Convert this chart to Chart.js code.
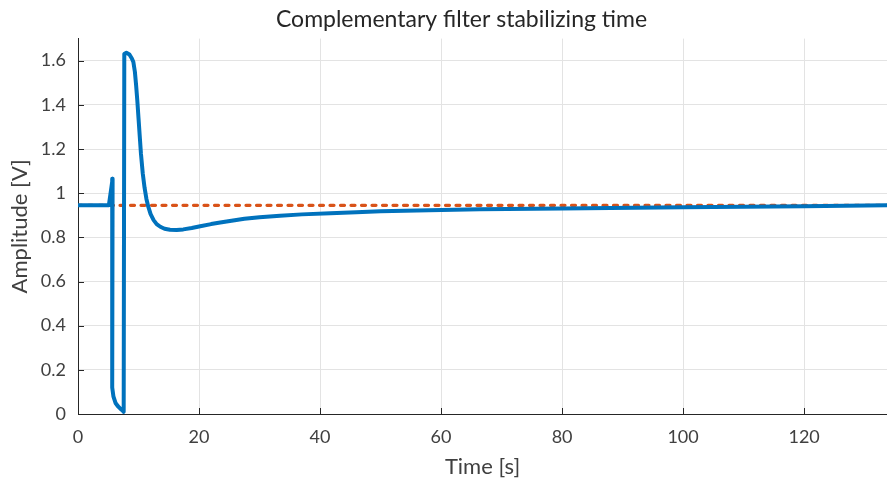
<!DOCTYPE html>
<html>
<head>
<meta charset="utf-8">
<script src="https://cdn.jsdelivr.net/npm/chart.js@4"></script>
<style>
  html, body { margin: 0; padding: 0; background: #fff; }
  canvas { display: block; }
</style>
</head>
<body>
<canvas id="chart" width="887" height="482"></canvas>
<script>
// filter output
const timeS = [0, 5.1, 5.72, 5.62, 5.62, 5.72, 5.85, 6.2, 6.6, 7.0, 7.35, 7.55, 7.65, 8.0, 8.5, 8.9, 9.15, 9.4, 9.6, 9.8, 10.0, 10.2, 10.4, 10.7, 11.0, 11.3, 11.6, 12.0, 12.5, 13.0, 13.6, 14.3, 15.2, 16.3, 17.4, 18.8, 20.2, 22, 23.5, 25.1, 27.5, 30, 33.4, 37, 41.7, 46, 50, 58, 66.4, 80, 100, 120, 134];
const amplitude = [0.945, 0.945, 1.065, 0.6, 0.2, 0.12, 0.08, 0.05, 0.035, 0.024, 0.016, 0.01, 1.63, 1.636, 1.628, 1.61, 1.594, 1.55, 1.49, 1.42, 1.34, 1.26, 1.18, 1.09, 1.025, 0.975, 0.94, 0.905, 0.878, 0.86, 0.848, 0.839, 0.834, 0.833, 0.836, 0.842, 0.85, 0.86, 0.867, 0.874, 0.884, 0.891, 0.898, 0.904, 0.909, 0.914, 0.918, 0.923, 0.927, 0.931, 0.936, 0.941, 0.945];
// reference level
const refTime = [0, 134];
const refLevel = [0.945, 0.945];

const xTicks = [0, 20, 40, 60, 80, 100, 120];
const yTicks = [0, 0.2, 0.4, 0.6, 0.8, 1, 1.2, 1.4, 1.6];

const FONT = "Lato, sans-serif";
const AXIS = '#262626';

const pts = (xs, ys) => xs.map((x, i) => ({ x: x, y: ys[i] }));

// matlab style inward ticks, title centred like the original
const axesDecor = {
  id: 'axesDecor',
  afterLayout(chart) {
    chart.titleBlock.left = 36;
    chart.titleBlock.right = 887;
  },
  afterDatasetsDraw(chart) {
    const ctx = chart.ctx, a = chart.chartArea;
    const xs = chart.scales.x, ys = chart.scales.y;
    ctx.save();
    ctx.strokeStyle = AXIS;
    ctx.lineWidth = 1;
    ctx.beginPath();
    xTicks.forEach(v => {
      const p = Math.round(xs.getPixelForValue(v)) + 0.5;
      ctx.moveTo(p, a.bottom);
      ctx.lineTo(p, a.bottom - 6);
    });
    yTicks.forEach(v => {
      const p = Math.round(ys.getPixelForValue(v)) + 0.5;
      ctx.moveTo(a.left, p);
      ctx.lineTo(a.left + 6, p);
    });
    ctx.stroke();
    ctx.restore();
  }
};

new Chart(document.getElementById('chart'), {
  type: 'line',
  data: {
    datasets: [
      {
        data: pts(timeS, amplitude),
        borderColor: '#0072BD',
        borderWidth: 4,
        borderJoinStyle: 'round',
        pointRadius: 0,
        tension: 0,
        order: 1
      },
      {
        data: pts(refTime, refLevel),
        borderColor: '#D95319',
        borderWidth: 3.2,
        borderDash: [4, 6.5],
        borderCapStyle: 'round',
        pointRadius: 0,
        order: 2
      }
    ]
  },
  options: {
    responsive: false,
    devicePixelRatio: 1,
    animation: false,
    layout: { padding: { left: 0, right: 0, top: 0, bottom: 0 } },
    plugins: {
      legend: { display: false },
      tooltip: { enabled: false },
      title: {
        display: true,
        text: 'Complementary filter stabilizing time',
        color: AXIS,
        font: { family: FONT, size: 23, weight: 'normal' },
        padding: { top: 6, bottom: 5 }
      }
    },
    scales: {
      x: {
        type: 'linear',
        min: 0,
        max: 133.7,
        afterBuildTicks: s => { s.ticks = xTicks.map(v => ({ value: v })); },
        afterFit: s => { s.height = 68; },
        ticks: { color: '#404040', font: { family: FONT, size: 18 }, padding: 12, maxRotation: 0 },
        grid: { color: '#e3e3e3', drawTicks: false },
        border: { color: AXIS, width: 1 },
        title: {
          display: true,
          text: 'Time [s]',
          color: '#404040',
          font: { family: FONT, size: 22 },
          padding: { top: 0, bottom: 2 }
        }
      },
      y: {
        min: 0,
        max: 1.7,
        afterBuildTicks: s => { s.ticks = yTicks.map(v => ({ value: v })); },
        afterFit: s => { s.width = 78; },
        ticks: {
          color: '#404040',
          font: { family: FONT, size: 18 },
          padding: 12,
          callback: v => String(v)
        },
        grid: { color: '#e3e3e3', drawTicks: false },
        border: { color: AXIS, width: 1 },
        title: {
          display: true,
          text: 'Amplitude [V]',
          color: '#404040',
          font: { family: FONT, size: 22 },
          padding: { top: 7, bottom: 4 }
        }
      }
    }
  },
  plugins: [axesDecor]
});
</script>
</body>
</html>
